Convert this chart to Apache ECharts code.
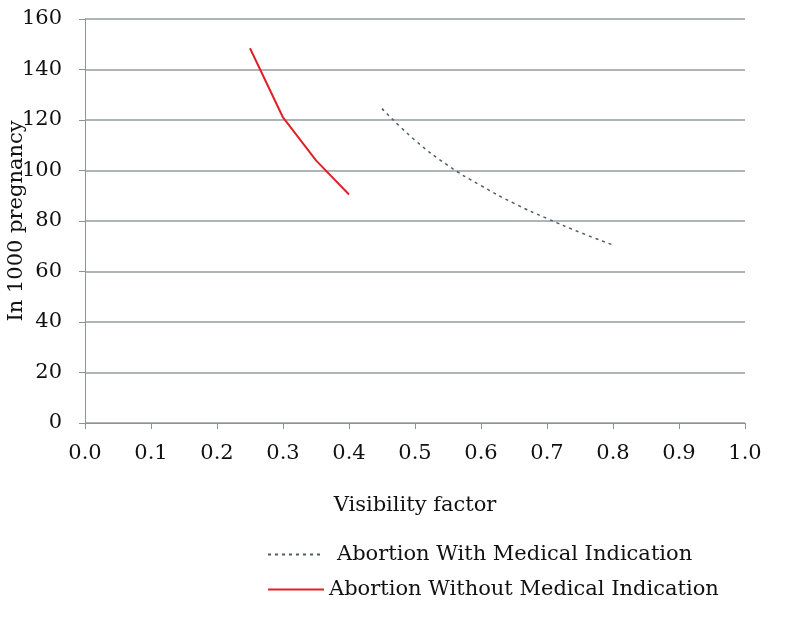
<!DOCTYPE html>
<html><head><meta charset="utf-8">
<script src="https://cdn.jsdelivr.net/npm/echarts@6/dist/echarts.min.js"></script>
<style>html,body{margin:0;padding:0;background:#fff}#c{width:798px;height:620px}</style>
</head><body><div id="c"></div>
<script>
const withX = [0.45, 0.5, 0.55, 0.6, 0.65, 0.7, 0.75, 0.8];
const withY = [124.5, 112, 102, 94, 87, 81, 75.5, 70.5];
const withoutX = [0.25, 0.30, 0.35, 0.40];
const withoutY = [148.4, 121, 104, 90.5];
const seriesNames = ['Abortion With Medical Indication', 'Abortion Without Medical Indication'];
const xTitle = 'Visibility factor';
const yTitle = 'In 1000 pregnancy';

const font = 'DejaVu Serif';
const fs = 21;
const chart = echarts.init(document.getElementById('c'));
chart.setOption({
  animation: false,
  grid: {left: 85, right: 53, top: 19, bottom: 197, outerBoundsMode: 'none', containLabel: false},
  xAxis: {
    type: 'value', min: 0, max: 1, interval: 0.1,
    name: xTitle, nameLocation: 'middle', nameGap: 72, nameMoveOverlap: false,
    nameTextStyle: {fontFamily: font, fontSize: fs, color: '#111'},
    axisLine: {show: true, lineStyle: {color: '#8c9494', width: 1}},
    axisTick: {show: true, length: 6, lineStyle: {color: '#8c9494'}},
    axisLabel: {fontFamily: font, fontSize: fs, color: '#111', margin: 20, formatter: v => v.toFixed(1)},
    splitLine: {show: false}
  },
  yAxis: {
    type: 'value', min: 0, max: 160, interval: 20,
    name: yTitle, nameLocation: 'middle', nameGap: 58, nameRotate: 90, nameMoveOverlap: false,
    nameTextStyle: {fontFamily: font, fontSize: fs, color: '#111'},
    axisLine: {show: true, lineStyle: {color: '#8c9494', width: 1}},
    axisTick: {show: true, length: 6, lineStyle: {color: '#8c9494'}},
    axisLabel: {fontFamily: font, fontSize: fs, color: '#111', margin: 23},
    splitLine: {show: true, lineStyle: {color: '#959d9d', width: 1.5}}
  },
  legend: [
    {data: [seriesNames[0]], left: 262, top: 539, itemWidth: 56, itemHeight: 10,
     itemStyle: {opacity: 0},
     textStyle: {fontFamily: font, fontSize: fs, color: '#111', padding: [0, 0, 0, 8]}},
    {data: [seriesNames[1]], left: 262, top: 574, itemWidth: 56, itemHeight: 10,
     itemStyle: {opacity: 0},
     textStyle: {fontFamily: font, fontSize: fs, color: '#111'}}
  ],
  series: [
    {name: seriesNames[0], type: 'line', smooth: true, symbol: 'none',
     data: withX.map((x, i) => [x, withY[i]]),
     lineStyle: {color: '#4d5d6b', width: 1.5, type: [3, 4]}, itemStyle: {color: '#4d5d6b'}},
    {name: seriesNames[1], type: 'line', smooth: false, symbol: 'none',
     data: withoutX.map((x, i) => [x, withoutY[i]]),
     lineStyle: {color: '#e0202a', width: 2}, itemStyle: {color: '#e0202a'}}
  ]
});
</script></body></html>
